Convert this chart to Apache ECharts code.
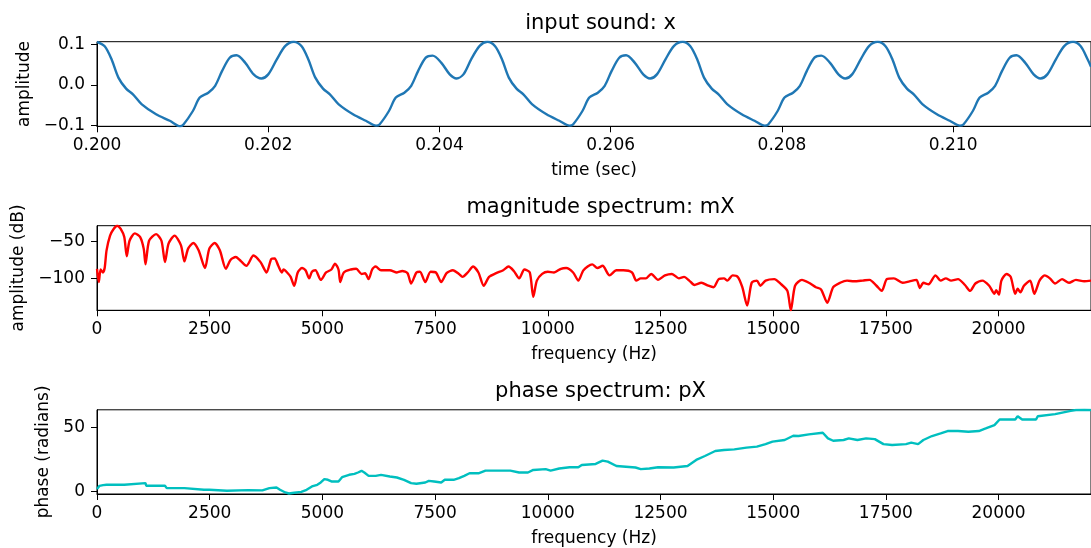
<!DOCTYPE html>
<html>
<head>
<meta charset="utf-8">
<script src="https://cdn.jsdelivr.net/npm/echarts@6/dist/echarts.min.js"></script>
<style>
  html, body { margin: 0; padding: 0; background: #fff; }
  #main { width: 1091px; height: 548px; }
</style>
</head>
<body>
<div id="main"></div>
<script>
// input sound x (time in sec, amplitude)
var waveT = [
  0.20000, 0.20009, 0.20017, 0.20025, 0.20034, 0.20042, 0.20052, 0.20069, 0.20085, 0.20097, 0.20101, 0.20112,
  0.20120, 0.20130, 0.20138, 0.20146, 0.20155, 0.20163, 0.20173, 0.20183, 0.20192, 0.20200, 0.20210, 0.20220,
  0.20230, 0.20239, 0.20247, 0.20255, 0.20264, 0.20272, 0.20282, 0.20299, 0.20314, 0.20326, 0.20330, 0.20341,
  0.20349, 0.20359, 0.20367, 0.20375, 0.20384, 0.20392, 0.20402, 0.20412, 0.20420, 0.20428, 0.20437, 0.20447,
  0.20456, 0.20465, 0.20473, 0.20481, 0.20490, 0.20498, 0.20508, 0.20525, 0.20540, 0.20552, 0.20556, 0.20567,
  0.20575, 0.20585, 0.20593, 0.20601, 0.20610, 0.20618, 0.20628, 0.20638, 0.20646, 0.20654, 0.20664, 0.20674,
  0.20684, 0.20693, 0.20701, 0.20709, 0.20718, 0.20726, 0.20736, 0.20753, 0.20768, 0.20780, 0.20784, 0.20795,
  0.20803, 0.20813, 0.20821, 0.20829, 0.20838, 0.20846, 0.20856, 0.20866, 0.20874, 0.20882, 0.20892, 0.20902,
  0.20912, 0.20921, 0.20929, 0.20937, 0.20946, 0.20954, 0.20964, 0.20981, 0.20996, 0.21008, 0.21012, 0.21023,
  0.21031, 0.21041, 0.21049, 0.21057, 0.21066, 0.21074, 0.21084, 0.21094, 0.21102, 0.21110, 0.21120, 0.21130,
  0.21140, 0.21149, 0.21157, 0.21161
];
var waveX = [
  0.106, 0.095, 0.063, 0.018, -0.009, -0.023, -0.047, -0.072, -0.088, -0.1016, -0.097, -0.064,
  -0.031, -0.019, -0.002, 0.034, 0.067, 0.073, 0.055, 0.026, 0.016, 0.026, 0.063, 0.096,
  0.1063, 0.095, 0.062, 0.018, -0.009, -0.023, -0.047, -0.072, -0.088, -0.100, -0.097, -0.064,
  -0.031, -0.019, -0.002, 0.034, 0.067, 0.072, 0.055, 0.026, 0.016, 0.026, 0.063, 0.096,
  0.106, 0.095, 0.063, 0.018, -0.009, -0.023, -0.047, -0.072, -0.088, -0.100, -0.097, -0.064,
  -0.031, -0.019, -0.002, 0.034, 0.067, 0.073, 0.055, 0.026, 0.016, 0.026, 0.063, 0.096,
  0.106, 0.095, 0.063, 0.018, -0.009, -0.023, -0.047, -0.072, -0.088, -0.100, -0.097, -0.064,
  -0.031, -0.019, -0.002, 0.034, 0.067, 0.072, 0.055, 0.026, 0.016, 0.026, 0.063, 0.096,
  0.106, 0.095, 0.063, 0.018, -0.009, -0.023, -0.047, -0.072, -0.088, -0.100, -0.097, -0.064,
  -0.031, -0.019, -0.002, 0.034, 0.067, 0.073, 0.055, 0.026, 0.016, 0.026, 0.063, 0.096,
  0.106, 0.095, 0.063, 0.045
];

// magnitude spectrum mX (Hz, dB)
var magF = [
  0, 40, 80, 130, 170, 212, 290, 369, 448, 526, 605, 660, 722, 840, 958, 1037, 1076, 1155, 1312, 1430,
  1508, 1587, 1720, 1861, 1940, 2019, 2136, 2254, 2395, 2490, 2608, 2725, 2859, 2961, 3079, 3197, 3314, 3471,
  3628, 3762, 3864, 3942, 4021, 4099, 4139, 4217, 4296, 4375, 4453, 4547, 4626, 4705, 4768, 4846, 4964, 5082,
  5200, 5279, 5357, 5396, 5475, 5632, 5750, 5868, 5946, 6025, 6104, 6182, 6300, 6496, 6653, 6771, 6889, 6968,
  7086, 7164, 7282, 7400, 7518, 7636, 7754, 7895, 8029, 8108, 8225, 8343, 8461, 8579, 8697, 8854, 9011, 9129,
  9246, 9364, 9482, 9600, 9678, 9757, 9875, 10000, 10138, 10292, 10408, 10562, 10677, 10792, 10985, 11100,
  11215, 11369, 11523, 11677, 11869, 11962, 12062, 12177, 12292, 12446, 12600, 12754, 12908, 13023, 13138,
  13254, 13408, 13562, 13677, 13792, 13908, 13985, 14100, 14215, 14315, 14423, 14523, 14638, 14715, 14831,
  15023, 15177, 15315, 15392, 15485, 15638, 15792, 15946, 16062, 16200, 16331, 16485, 16638, 16792, 16985,
  17138, 17292, 17408, 17523, 17677, 17869, 18023, 18177, 18254, 18331, 18446, 18600, 18715, 18831, 18946,
  19100, 19254, 19369, 19485, 19638, 19792, 19908, 19946, 20008, 20062, 20177, 20269, 20369, 20423, 20485,
  20562, 20700, 20792, 20908, 21023, 21138, 21254, 21408, 21562, 21715, 21900, 22050
];
var magDb = [
  -87, -105, -88, -92, -86, -62, -42, -33, -28.6, -33, -44, -70, -49, -39, -44, -60, -81, -49, -40, -49,
  -78, -53, -42, -55, -77, -60, -52, -62, -86, -60, -52, -62, -87, -75, -71, -77, -83, -69,
  -78, -92, -74, -73, -83, -92, -88, -92, -98, -110, -92, -86, -89, -100, -91, -89, -102, -92,
  -88, -80, -88, -105, -92, -88, -87, -94, -93, -101, -88, -84, -89, -89, -92, -90, -93, -107,
  -92, -91, -105, -91, -92, -105, -93, -89, -94, -98, -92, -84, -92, -110, -98, -93, -89, -84,
  -90, -100, -88, -92, -125, -103, -94, -91, -92, -87, -86, -92, -103, -89, -81, -86,
  -83, -96, -89, -89, -92, -103, -100, -100, -94, -102, -96, -94, -100, -98, -103,
  -109, -106, -110, -112, -101, -100, -103, -96, -98, -112, -137, -106, -103, -110, -103,
  -101, -108, -117, -143.3, -110, -102, -106, -112, -115, -133, -112, -106, -103, -104, -103,
  -102, -110, -117, -101, -100, -106, -104, -102, -113, -106, -108, -96, -103, -100, -103,
  -101, -109, -117, -107, -103, -110, -121, -116, -122, -103, -94, -98, -121, -114, -119,
  -110, -103, -121, -103, -96, -100, -107, -101, -106, -102, -104, -103
];

// phase spectrum pX (Hz, radians)
var phaseF = [
  0, 55, 134, 212, 605, 644, 1076, 1092, 1508, 1547, 1940, 1979, 2372, 2411, 2490, 2883, 3354, 3668, 3825,
  3982, 4060, 4178, 4257, 4375, 4532, 4650, 4768, 4886, 4964, 5043, 5122, 5200, 5357, 5436, 5593, 5711, 5789,
  5868, 5930, 6025, 6182, 6300, 6496, 6653, 6810, 6968, 7086, 7282, 7361, 7479, 7636, 7714, 7911, 8029, 8147,
  8264, 8461, 8618, 8854, 9168, 9364, 9560, 9678, 9953, 10062, 10254, 10485, 10677, 10754, 11062, 11215,
  11331, 11523, 11946, 12062, 12254, 12446, 12792, 13100, 13292, 13485, 13715, 13908, 14138, 14408, 14638,
  14831, 14985, 15254, 15446, 15562, 15792, 16100, 16215, 16331, 16562, 16677, 16869, 17062, 17254, 17446,
  17638, 17946, 18062, 18215, 18331, 18523, 18715, 18869, 19100, 19331, 19562, 19715, 19908, 20023, 20369,
  20423, 20523, 20831, 20869, 21254, 21600, 21715, 21900, 22050
];
var phaseRad = [
  1.8, 4.4, 4.9, 5.2, 5.2, 6.5, 6.5, 4.4, 4.4, 2.6, 2.6, 1.3, 1.3, 2.1, 1.3, 0.5, 1.0, 0.8, 2.6,
  3.1, 1.3, -0.8, -1.6, -1.0, -0.3, 1.3, 3.9, 5.2, 7.0, 9.6, 9.1, 7.8, 7.8, 11.1, 13.0, 13.7, 14.8,
  16.1, 14.8, 12.2, 12.2, 13.0, 11.7, 10.9, 9.1, 6.5, 6.0, 7.0, 8.3, 7.8, 7.0, 9.1, 9.1, 10.4, 12.2,
  14.2, 14.2, 16.3, 16.3, 16.3, 14.8, 14.8, 16.8, 17.4, 16.3, 17.9, 18.9, 18.9, 20.7, 21.5, 24.1,
  23.3, 19.9, 18.7, 17.4, 17.9, 18.9, 18.7, 19.9, 24.6, 27.7, 31.6, 32.4, 32.9, 34.2, 35.0,
  37.0, 38.9, 40.2, 43.5, 43.3, 44.6, 45.9, 41.5, 39.6, 40.2, 41.5, 40.2, 41.5, 40.9, 37.0,
  36.3, 37.0, 38.1, 37.0, 40.2, 43.3, 45.3, 47.2, 47.2, 46.6, 47.2, 49.2, 51.8, 56.2, 56.2,
  58.8, 56.2, 56.2, 58.8, 60.4, 63.0, 63.6, 63.8, 63.7
];

// tick labels
var timeTicks = [0.200, 0.202, 0.204, 0.206, 0.208, 0.210];
var ampTicks = [-0.1, 0.0, 0.1];
var freqTicks = [0, 2500, 5000, 7500, 10000, 12500, 15000, 17500, 20000];
var dbTicks = [-100, -50];
var phaseTicks = [0, 50];

var titles = ["input sound: x", "magnitude spectrum: mX", "phase spectrum: pX"];

function zip(a, b) {
  return a.map(function (v, i) { return [v, b[i]]; });
}
function fmt(d) {
  return function (v) {
    var s = Math.abs(v).toFixed(d);
    return (v < 0 ? "\u2212" : "") + s;
  };
}

var FONT = "DejaVu Sans";
var gridTops = [41.7, 225.7, 409.8];
var txt = { color: "#000", fontFamily: FONT, fontSize: 17 };

function xAx(i, min, max, ticks, d, name) {
  return {
    type: "value", gridIndex: i, min: min, max: max,
    name: name, nameLocation: "middle", nameGap: 36,
    nameTextStyle: txt,
    axisLine: { show: true, onZero: false, lineStyle: { color: "#000", width: 1 } },
    axisTick: { show: true, length: 6, customValues: ticks, lineStyle: { color: "#000" } },
    axisLabel: Object.assign({ margin: 11, customValues: ticks, formatter: fmt(d) }, txt),
    splitLine: { show: false }
  };
}
function yAx(i, min, max, ticks, d, name, gap) {
  return {
    type: "value", gridIndex: i, min: min, max: max,
    name: name, nameLocation: "middle", nameRotate: 90, nameGap: gap,
    nameTextStyle: txt,
    axisLine: { show: true, onZero: false, lineStyle: { color: "#000", width: 1 } },
    axisTick: { show: true, length: 6, customValues: ticks, lineStyle: { color: "#000" } },
    axisLabel: Object.assign({ margin: 12, customValues: ticks, formatter: fmt(d) }, txt),
    splitLine: { show: false }
  };
}

var chart = echarts.init(document.getElementById("main"));
chart.setOption({
  animation: false,
  backgroundColor: "#fff",
  title: titles.map(function (t, i) {
    return {
      text: t, left: 600.5, top: gridTops[i] - 28.5, textAlign: "center", padding: 0,
      textStyle: { color: "#000", fontFamily: FONT, fontSize: 21, fontWeight: "normal" }
    };
  }),
  grid: gridTops.map(function (t) {
    return { left: 97, top: t, width: 1007, height: 84.6, show: true, borderColor: "#000", borderWidth: 1 };
  }),
  xAxis: [
    xAx(0, 0.2, 0.21161, timeTicks, 3, "time (sec)"),
    xAx(1, 0, 22050, freqTicks, 0, "frequency (Hz)"),
    xAx(2, 0, 22050, freqTicks, 0, "frequency (Hz)")
  ],
  yAxis: [
    yAx(0, -0.1016, 0.1063, ampTicks, 1, "amplitude", 63),
    yAx(1, -143.3, -28.6, dbTicks, 0, "amplitude (dB)", 69),
    yAx(2, -2.0, 63.8, phaseTicks, 0, "phase (radians)", 43)
  ],
  series: [
    {
      type: "line", xAxisIndex: 0, yAxisIndex: 0, data: zip(waveT, waveX),
      showSymbol: false, smooth: 0.3, lineStyle: { color: "#1f77b4", width: 2.4 }
    },
    {
      type: "line", xAxisIndex: 1, yAxisIndex: 1, data: zip(magF, magDb),
      showSymbol: false, smooth: 0.25, lineStyle: { color: "#ff0000", width: 2.4 }
    },
    {
      type: "line", xAxisIndex: 2, yAxisIndex: 2, data: zip(phaseF, phaseRad),
      showSymbol: false, lineStyle: { color: "#00bfbf", width: 2.4 }
    }
  ]
});
</script>
</body>
</html>
